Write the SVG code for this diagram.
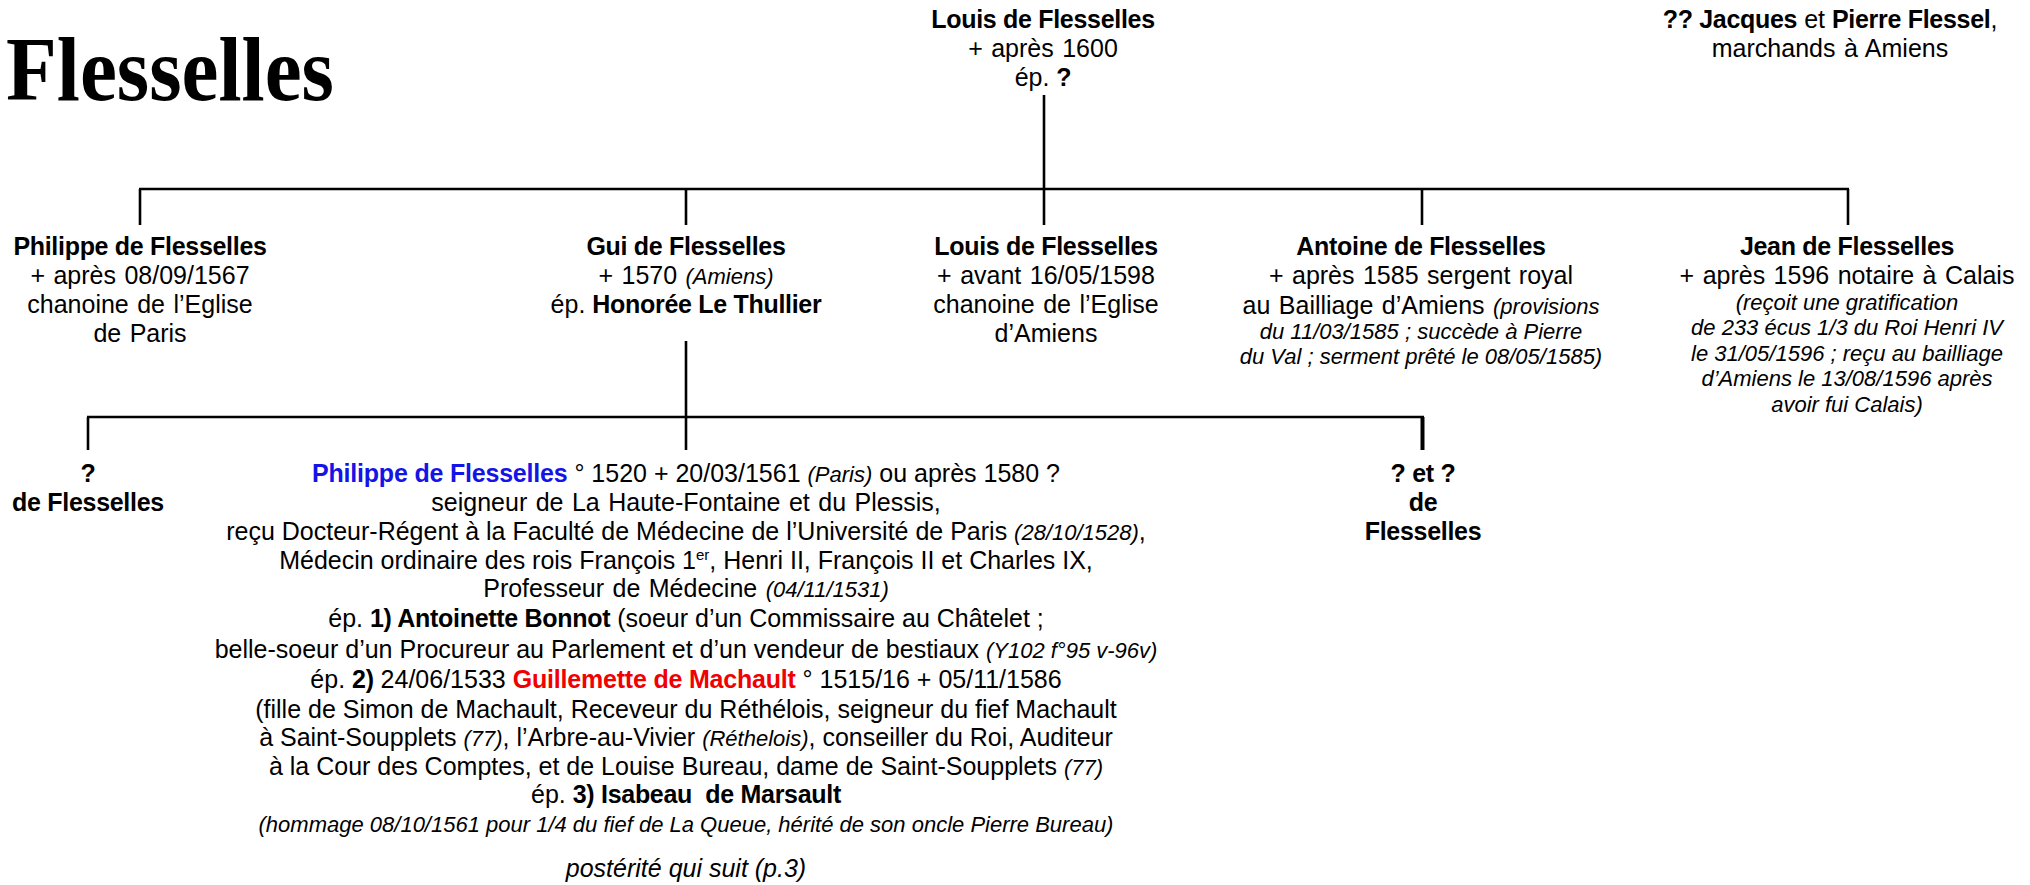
<svg xmlns="http://www.w3.org/2000/svg" width="2030" height="885" viewBox="0 0 2030 885">
<style>
text{font-family:"Liberation Sans",Arial,Helvetica,sans-serif;font-size:25px;fill:#000;text-anchor:middle}
.b{font-weight:bold;letter-spacing:-0.3px}
.i{font-style:italic;font-size:22px}
.il{font-style:italic}
.blue{fill:#1414e6;font-weight:bold;letter-spacing:-0.2px}
.red{fill:#f00000;font-weight:bold;letter-spacing:-0.2px}
.w{word-spacing:1.5px}
.title{font-family:"Liberation Serif","Times New Roman",serif;font-weight:bold;font-size:92px;text-anchor:start}
.c line{stroke:#000;stroke-width:2.6}
</style>
<rect width="2030" height="885" fill="#fff"/>
<text class="title" x="6" y="100" textLength="328" lengthAdjust="spacingAndGlyphs">Flesselles</text>

<g id="connectors" class="c">
<line x1="1044" y1="95" x2="1044" y2="189"/>
<line x1="139" y1="189" x2="1849" y2="189"/>
<line x1="140" y1="189" x2="140" y2="225"/>
<line x1="686" y1="189" x2="686" y2="225"/>
<line x1="1044" y1="189" x2="1044" y2="225"/>
<line x1="1422" y1="189" x2="1422" y2="225"/>
<line x1="1848" y1="189" x2="1848" y2="225"/>
<line x1="686" y1="341" x2="686" y2="450"/>
<line x1="87" y1="417" x2="1424" y2="417"/>
<line x1="88" y1="417" x2="88" y2="450"/>
<line x1="1422.5" y1="417" x2="1422.5" y2="450" style="stroke-width:4"/>
</g>

<g id="louis-top">
<text x="1043" y="28" class="b">Louis de Flesselles</text>
<text x="1043" y="57" class="w">+ après 1600</text>
<text x="1043" y="86">ép. <tspan class="b">?</tspan></text>
</g>

<g id="jacques-pierre">
<text x="1830" y="28"><tspan class="b">?? Jacques</tspan> et <tspan class="b">Pierre Flessel</tspan>,</text>
<text x="1830" y="57" class="w">marchands à Amiens</text>
</g>

<g id="philippe-chanoine">
<text x="140" y="255" class="b">Philippe de Flesselles</text>
<text x="140" y="284" class="w">+ après 08/09/1567</text>
<text x="140" y="313" class="w">chanoine de l’Eglise</text>
<text x="140" y="342" class="w">de Paris</text>
</g>

<g id="gui">
<text x="686" y="255" class="b">Gui de Flesselles</text>
<text x="686" y="284" class="w">+ 1570 <tspan class="i">(Amiens)</tspan></text>
<text x="686" y="313">ép. <tspan class="b">Honorée Le Thullier</tspan></text>
</g>

<g id="louis-chanoine">
<text x="1046" y="255" class="b">Louis de Flesselles</text>
<text x="1046" y="284" class="w">+ avant 16/05/1598</text>
<text x="1046" y="313" class="w">chanoine de l’Eglise</text>
<text x="1046" y="342" class="w">d’Amiens</text>
</g>

<g id="antoine">
<text x="1421" y="255" class="b">Antoine de Flesselles</text>
<text x="1421" y="284" class="w">+ après 1585 sergent royal</text>
<text x="1421" y="314" class="w">au Bailliage d’Amiens <tspan class="i">(provisions</tspan></text>
<text x="1421" y="339" class="i">du 11/03/1585 ; succède à Pierre</text>
<text x="1421" y="364" class="i">du Val ; serment prêté le 08/05/1585)</text>
</g>

<g id="jean">
<text x="1847" y="255" class="b">Jean de Flesselles</text>
<text x="1847" y="284" class="w">+ après 1596 notaire à Calais</text>
<text x="1847" y="310" class="i">(reçoit une gratification</text>
<text x="1847" y="335" class="i">de 233 écus 1/3 du Roi Henri IV</text>
<text x="1847" y="361" class="i">le 31/05/1596 ; reçu au bailliage</text>
<text x="1847" y="386" class="i">d’Amiens le 13/08/1596 après</text>
<text x="1847" y="412" class="i">avoir fui Calais)</text>
</g>

<g id="unknown-left">
<text x="88" y="482" class="b">?</text>
<text x="88" y="511" class="b">de Flesselles</text>
</g>

<g id="unknown-right">
<text x="1423" y="482" class="b">? et ?</text>
<text x="1423" y="511" class="b">de</text>
<text x="1423" y="540" class="b">Flesselles</text>
</g>

<g id="philippe-medecin">
<text x="686" y="482"><tspan class="blue">Philippe de Flesselles</tspan> ° 1520 + 20/03/1561 <tspan class="i">(Paris)</tspan> ou après 1580 ?</text>
<text x="686" y="511" class="w">seigneur de La Haute-Fontaine et du Plessis,</text>
<text x="686" y="540">reçu Docteur-Régent à la Faculté de Médecine de l’Université de Paris <tspan class="i">(28/10/1528)</tspan>,</text>
<text x="686" y="569">Médecin ordinaire des rois François 1<tspan font-size="15" dy="-9">er</tspan><tspan dy="9">, Henri II, François II et Charles IX,</tspan></text>
<text x="686" y="597" class="w">Professeur de Médecine <tspan class="i">(04/11/1531)</tspan></text>
<text x="686" y="627">ép. <tspan class="b">1) Antoinette Bonnot</tspan> (soeur d’un Commissaire au Châtelet ;</text>
<text x="686" y="658">belle-soeur d’un Procureur au Parlement et d’un vendeur de bestiaux <tspan class="i">(Y102 f°95 v-96v)</tspan></text>
<text x="686" y="688">ép. <tspan class="b">2)</tspan> 24/06/1533 <tspan class="red">Guillemette de Machault</tspan> ° 1515/16 + 05/11/1586</text>
<text x="686" y="718">(fille de Simon de Machault, Receveur du Réthélois, seigneur du fief Machault</text>
<text x="686" y="746">à Saint-Soupplets <tspan class="i">(77)</tspan>, l’Arbre-au-Vivier <tspan class="i">(Réthelois)</tspan>, conseiller du Roi, Auditeur</text>
<text x="686" y="775">à la Cour des Comptes, et de Louise Bureau, dame de Saint-Soupplets <tspan class="i">(77)</tspan></text>
<text x="686" y="803" xml:space="preserve">ép. <tspan class="b">3) Isabeau  de Marsault</tspan></text>
<text x="686" y="832" class="i">(hommage 08/10/1561 pour 1/4 du fief de La Queue, hérité de son oncle Pierre Bureau)</text>
<text x="686" y="877" class="il">postérité qui suit (p.3)</text>
</g>
</svg>
